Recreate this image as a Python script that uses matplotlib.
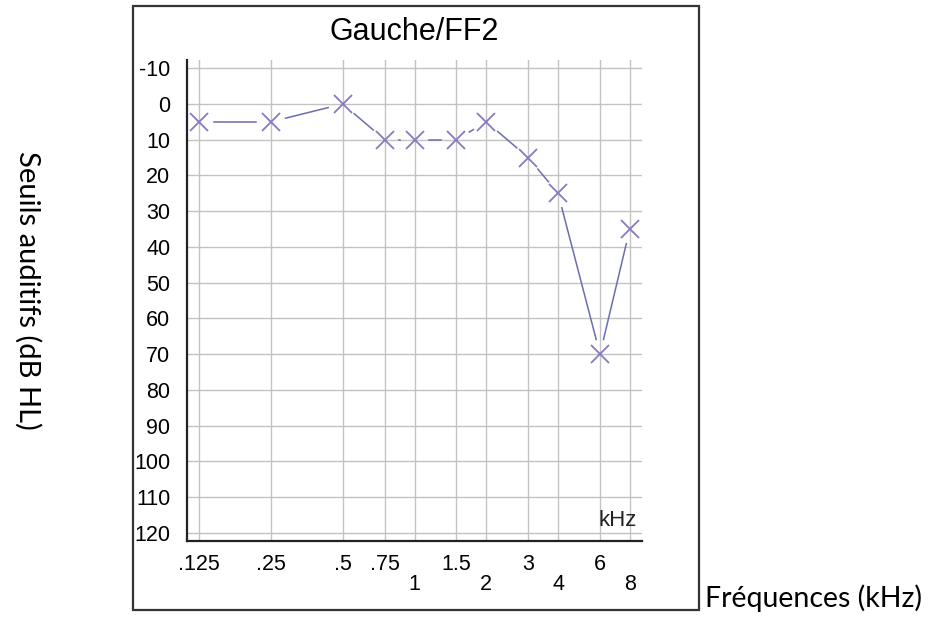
import numpy as np
import matplotlib
matplotlib.use("Agg")
import matplotlib.pyplot as plt
from matplotlib.patches import Rectangle

# ---- data ----
freqs = [0.125, 0.25, 0.5, 0.75, 1, 1.5, 2, 3, 4, 6, 8]
thresholds = [5, 5, 0, 10, 10, 10, 5, 15, 25, 70, 35]
row1_labels = {0.125: ".125", 0.25: ".25", 0.5: ".5", 0.75: ".75", 1.5: "1.5", 3: "3", 6: "6"}
row2_labels = {1: "1", 2: "2", 4: "4", 8: "8"}
y_ticks = list(range(-10, 130, 10))
title = "Gauche/FF2"
ylabel = "Seuils auditifs (dB HL)"
xlabel = "Fréquences (kHz)"

plt.rcParams['font.family'] = ['Liberation Sans', 'DejaVu Sans']

W, H = 946, 625
fig = plt.figure(figsize=(W / 100, H / 100), dpi=100)
fig.patch.set_facecolor("white")

ax = fig.add_axes([187 / W, 1 - 541 / H, (642 - 187) / W, (541 - 60) / H])
ax.set_xscale("log", base=2)
ax.set_xlim(2 ** -3.17, 2 ** 3.17)
ax.set_ylim(122.3, -12.3)

# grid
for f in freqs:
    ax.axvline(f, color="#c2c2c2", lw=1.0, zorder=0)
for v in y_ticks:
    ax.axhline(v, color="#c2c2c2", lw=1.0, zorder=0)

for s in ["top", "right"]:
    ax.spines[s].set_visible(False)
for s in ["left", "bottom"]:
    ax.spines[s].set_color("#222222")
    ax.spines[s].set_linewidth(1.6)

ax.set_yticks(y_ticks)
ax.set_yticklabels([str(v) for v in y_ticks], fontsize=15.5)
ax.tick_params(axis="y", length=0, pad=12)

all_ticks = freqs
labels = [row1_labels.get(f, row2_labels.get(f, "")) for f in all_ticks]
ax.set_xticks(all_ticks)
ax.set_xticklabels(labels, fontsize=15.5)
ax.xaxis.set_minor_locator(matplotlib.ticker.NullLocator())
ax.tick_params(axis="x", length=0, pad=9)
for f, t in zip(all_ticks, ax.xaxis.get_major_ticks()):
    if f in row2_labels:
        t.set_pad(24)

# data line with gaps around markers
fig.canvas.draw()
pts = ax.transData.transform(np.column_stack([freqs, thresholds]))
gap = 15
inv = ax.transData.inverted()
for i in range(len(pts) - 1):
    a, b = pts[i], pts[i + 1]
    d = b - a
    L = np.hypot(*d)
    u = d / L
    seg = inv.transform(np.array([a + u * gap, b - u * gap]))
    ax.plot(seg[:, 0], seg[:, 1], color="#6c6eab", lw=1.1, zorder=3)

ax.plot(freqs, thresholds, linestyle="none", marker="x", markersize=12.5,
        markeredgewidth=1.3, color="#8a78c0", zorder=4)

ax.text((637 - 187) / 455, 1 - (520 - 60) / 481, "kHz", fontsize=16,
        ha="right", va="center", color="#222222", transform=ax.transAxes)

# title and frame
fig.text(414.5 / W, 1 - 32 / H, title, fontsize=22, ha="center", va="center")
fig.patches.append(Rectangle((133 / W, 1 - 610 / H), 566 / W, 604 / H,
                             transform=fig.transFigure, fill=False,
                             edgecolor="#333333", lw=1.6))

fig.text(28 / W, 1 - 290 / H, ylabel, rotation=-90, fontsize=21,
         ha="center", va="center", family=["Lato", "DejaVu Sans"])
fig.text(705 / W, 1 - 598 / H, xlabel, fontsize=20.5, ha="left", va="center",
         family=["Lato", "DejaVu Sans"])

fig.savefig("out.png", dpi=100, facecolor="white")
